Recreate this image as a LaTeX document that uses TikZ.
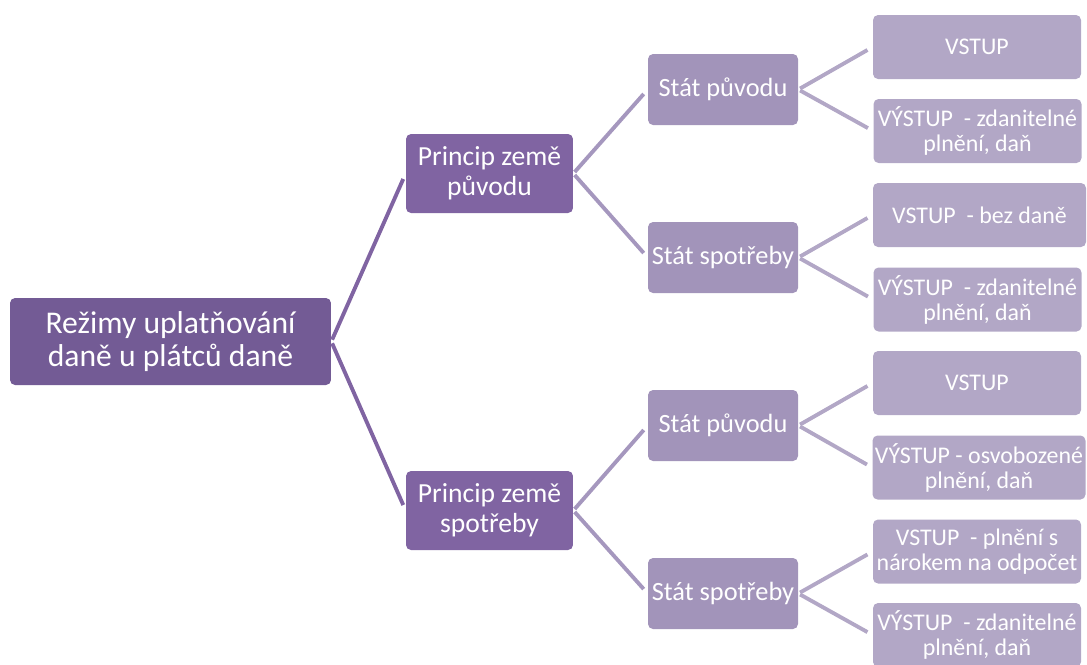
\documentclass[tikz,border=0pt]{standalone}
\usepackage{fontspec}
\setmainfont{Carlito}
\usetikzlibrary{positioning}

\definecolor{rootfill}{RGB}{115,91,149}
\definecolor{princfill}{RGB}{128,100,162}
\definecolor{statfill}{RGB}{162,148,186}
\definecolor{tokfill}{RGB}{178,167,198}
\definecolor{princline}{RGB}{128,100,162}
\definecolor{statline}{RGB}{165,151,190}
\definecolor{tokline}{RGB}{178,167,198}

\tikzset{
	box/.style={rounded corners=0.1cm, text=white, align=center, inner sep=0pt},
	rootbox/.style={box, fill=rootfill, minimum width=6.42cm, minimum height=1.74cm,
		font=\fontsize{18}{18.4}\selectfont},
	princbox/.style={box, fill=princfill, minimum width=3.34cm, minimum height=1.58cm,
		font=\fontsize{15.7}{17}\selectfont},
	statbox/.style={box, fill=statfill, minimum width=3.0cm, minimum height=1.42cm,
		font=\fontsize{15}{16}\selectfont},
	tokbox/.style={box, fill=tokfill, minimum width=4.16cm, minimum height=1.28cm,
		font=\fontsize{13.6}{14.3}\selectfont},
	link/.style={line width=2.2pt, shorten <=0.04cm, shorten >=0.12cm}
}

\begin{document}
\begin{tikzpicture}[x=0.02cm, y=-0.02cm]
	\useasboundingbox (0,0) rectangle (1087,664);
	
	% koren
	\node[rootbox] (rezim) at (170.5,341.5) {Režimy uplatňování\\daně u plátců daně};
	
	% principy
	\node[princbox] (puvod) at (489.5,173.5) {Princip země\\původu};
	\node[princbox] (spotr) at (489.5,510.5) {Princip země\\spotřeby};
	
	% staty
	\node[statbox] (puvodA) at (723,89.5) {Stát původu};
	\node[statbox] (puvodB) at (723,257.5) {Stát spotřeby};
	\node[statbox] (spotrA) at (723,425.5) {Stát původu};
	\node[statbox] (spotrB) at (723,593.5) {Stát spotřeby};
	
	% vstupy a vystupy
	\node[tokbox] (vstA) at (977,47) {VSTUP};
	\node[tokbox] (vysA) at (977.5,131) {VÝSTUP\ \ - zdanitelné\\plnění, daň};
	\node[tokbox, minimum width=4.26cm] (vstB) at (979.5,215) {VSTUP\ \ - bez daně};
	\node[tokbox] (vysB) at (977.5,299.5) {VÝSTUP\ \ - zdanitelné\\plnění, daň};
	\node[tokbox] (vstC) at (977,383) {VSTUP};
	\node[tokbox, minimum width=4.26cm] (vysC) at (979,467.5) {VÝSTUP - osvobozené\\plnění, daň};
	\node[tokbox] (vstD) at (977,551.5) {VSTUP\ \ - plnění s\\nárokem na odpočet};
	\node[tokbox] (vysD) at (977,635) {VÝSTUP\ \ - zdanitelné\\plnění, daň};
	
	% spojnice
	\draw[link, draw=princline] (rezim.east) -- (puvod.west);
	\draw[link, draw=princline] (rezim.east) -- (spotr.west);
	
	\draw[link, draw=statline] (puvod.east) -- (puvodA.west);
	\draw[link, draw=statline] (puvod.east) -- (puvodB.west);
	\draw[link, draw=statline] (spotr.east) -- (spotrA.west);
	\draw[link, draw=statline] (spotr.east) -- (spotrB.west);
	
	\draw[link, draw=tokline] (puvodA.east) -- (vstA.west);
	\draw[link, draw=tokline] (puvodA.east) -- (vysA.west);
	\draw[link, draw=tokline] (puvodB.east) -- (vstB.west);
	\draw[link, draw=tokline] (puvodB.east) -- (vysB.west);
	\draw[link, draw=tokline] (spotrA.east) -- (vstC.west);
	\draw[link, draw=tokline] (spotrA.east) -- (vysC.west);
	\draw[link, draw=tokline] (spotrB.east) -- (vstD.west);
	\draw[link, draw=tokline] (spotrB.east) -- (vysD.west);
	
\end{tikzpicture}
\end{document}
